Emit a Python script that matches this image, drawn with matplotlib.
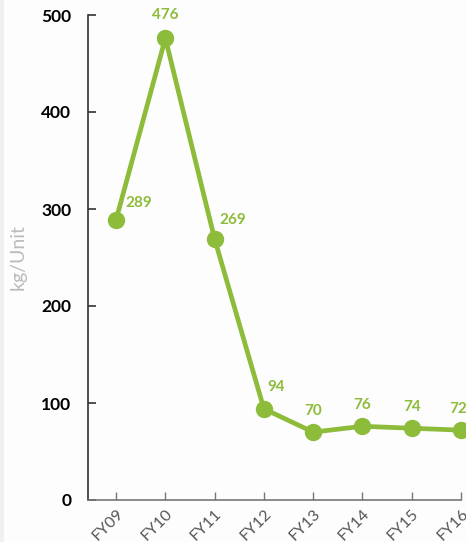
import matplotlib.pyplot as plt
from matplotlib.patches import Rectangle

# data
years = ["FY09", "FY10", "FY11", "FY12", "FY13", "FY14", "FY15", "FY16"]
values = [289, 476, 269, 94, 70, 76, 74, 72]
y_ticks = [0, 100, 200, 300, 400, 500]

green = "#8dbb3a"
plt.rcParams["font.family"] = ["Lato", "DejaVu Sans"]

fig = plt.figure(figsize=(4.66, 5.42), dpi=100, facecolor="#fdfdfd")
# thin gray strip on the left edge
fig.patches.append(Rectangle((0, 0), 4 / 466, 1, transform=fig.transFigure,
                             facecolor="#f0f0f0", edgecolor="none"))

ax = fig.add_axes([88 / 466, 42 / 542, 373 / 466, 485 / 542])
ax.set_facecolor("none")

x = list(range(len(years)))
ax.plot(x, values, color=green, linewidth=3.4, marker="o", markersize=11.5,
        solid_capstyle="round", zorder=3, clip_on=False)

# value labels (offsets in points)
offsets = [(16, 12), (0, 17), (13, 14), (9, 16), (0, 15), (0, 15), (0, 15), (-2, 15)]
for xi, v, (dx, dy) in zip(x, values, offsets):
    ax.annotate(str(v), (xi, v), xytext=(dx, dy), textcoords="offset points",
                ha="center", va="center", color=green, fontsize=11,
                fontweight="bold")

ax.set_xlim(-0.57, 7)
ax.set_ylim(0, 500)
ax.set_yticks(y_ticks)
ax.set_xticks(x)
ax.set_xticklabels(years, rotation=45, ha="right", rotation_mode="anchor",
                   color="#555555", fontsize=11.5)
ax.set_yticklabels([str(t) for t in y_ticks], fontsize=12.5, fontweight="bold")

for side in ["top", "right"]:
    ax.spines[side].set_visible(False)
ax.spines["left"].set_color("#333333")
ax.spines["bottom"].set_color("#777777")
ax.spines["left"].set_linewidth(1.2)
ax.spines["bottom"].set_linewidth(1.2)

ax.tick_params(axis="y", direction="in", length=6, width=1.2, color="#333333", pad=12)
ax.tick_params(axis="x", direction="in", length=6, width=1, color="#777777", pad=5)

ax.set_ylabel("kg/Unit", color="#bbbbbb", fontsize=14)
ax.yaxis.set_label_coords(-0.165, 0.5)

fig.savefig("out.png", dpi=100, facecolor=fig.get_facecolor())
